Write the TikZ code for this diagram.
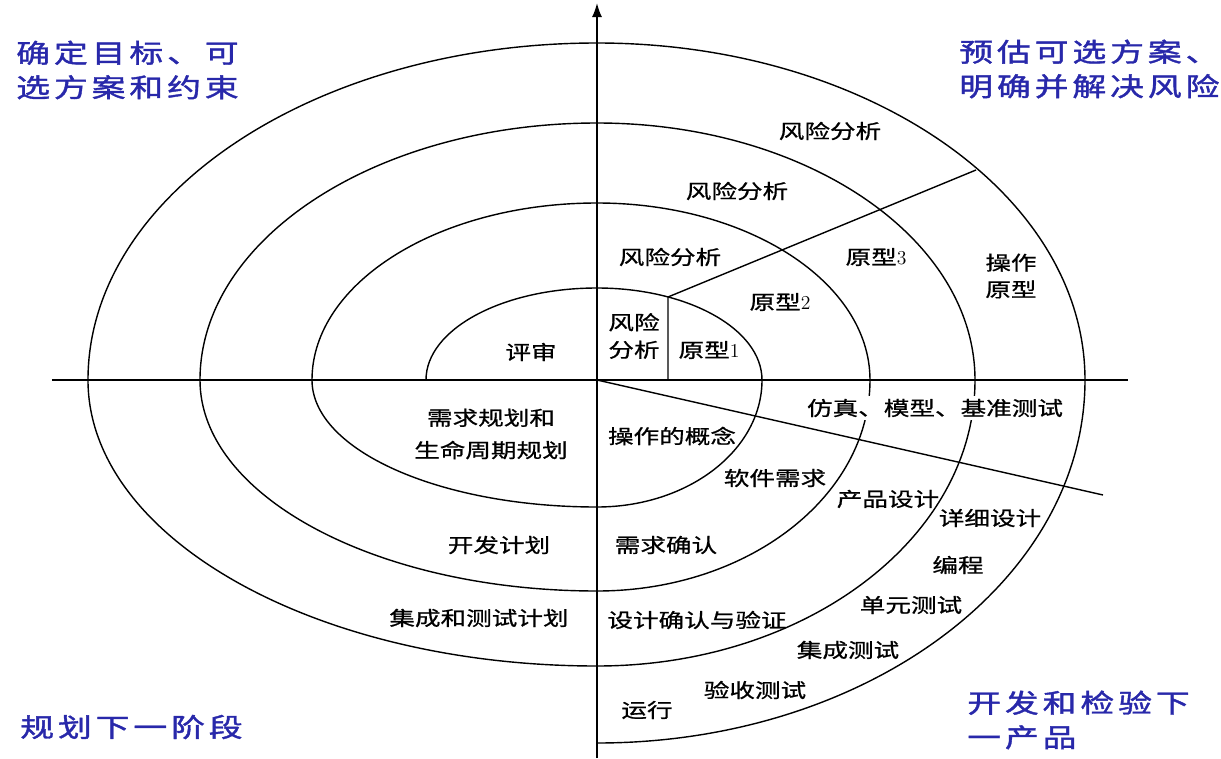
\documentclass[tikz,border=0pt]{standalone}
\usepackage{fontspec}
\usetikzlibrary{arrows.meta}
\newfontfamily\cjk[FakeStretch=1.3,FakeBold=0.8]{Noto Sans CJK SC}
\newfontfamily\cjkgoal[FakeStretch=1.3,FakeBold=1.5,LetterSpace=15]{Noto Sans CJK SC}
\definecolor{goalblue}{RGB}{40,40,170}
\begin{document}
\begin{tikzpicture}[x=0.025cm, y=0.025cm,
    spiral/.style={line width=1pt},
    axis/.style={line width=1.2pt},
    lbl/.style={inner sep=1pt, align=center, font=\cjk\fontsize{14}{19}\selectfont},
    goal/.style={inner sep=0pt, anchor=west, align=left, text=goalblue,
      font=\cjkgoal\fontsize{18.5}{24.5}\selectfont}]
  \useasboundingbox (-597,-378) rectangle (624,380);
  \coordinate (O) at (0,0);
  \coordinate (xl) at (-545,0);
  \coordinate (xr) at (531,0);
  \coordinate (yb) at (0,-378);
  \coordinate (yt) at (0,377);
  \coordinate (boxfoot) at (71,0);
  \coordinate (boxtop) at (71,83);
  \coordinate (protoend) at (379,210);
  \coordinate (cutend) at (506,-115);

  % spiral, one quarter ellipse per quadrant
  \draw[spiral] (-171,0)
    \foreach \al/\ar/\bu/\bd/\nx in {171/165/92/127/285, 285/273/177/211/397, 397/378/257/286/509}{
      arc[start angle=180, end angle=90, x radius=\al, y radius=\bu]
      arc[start angle=90, end angle=0, x radius=\ar, y radius=\bu]
      arc[start angle=0, end angle=-90, x radius=\ar, y radius=\bd]
      arc[start angle=-90, end angle=-180, x radius=\nx, y radius=\bd]}
    arc[start angle=180, end angle=90, x radius=509, y radius=337]
    arc[start angle=90, end angle=0, x radius=488, y radius=337]
    arc[start angle=0, end angle=-90, x radius=488, y radius=363];

  % axes and cuts
  \draw[axis] (xl) -- (xr);
  \draw[axis, -{Latex[length=3.5mm, width=2.5mm]}] (yb) -- (yt);
  \draw[spiral] (boxfoot) -- (boxtop) -- (protoend);
  \draw[spiral] (O) -- (cutend);

  % quadrant titles
  \node[goal] (goalUL) at (-581,310) {确定目标、可\\选方案和约束};
  \node[goal] (goalUR) at (362,311) {预估可选方案、\\明确并解决风险};
  \node[goal] (goalLL) at (-577,-347) {规划下一阶段};
  \node[goal] (goalLR) at (370,-340) {开发和检验下\\一产品};

  % upper right
  \node[lbl] (risk4) at (233,249) {风险分析};
  \node[lbl] (risk3) at (140,189) {风险分析};
  \node[lbl] (risk2) at (73,123) {风险分析};
  \node[lbl, font=\cjk\fontsize{14}{19.5}\selectfont] (risk1) at (37,44) {风险\\分析};
  \node[lbl] (proto1) at (112,30) {原型\rmfamily 1};
  \node[lbl] (proto2) at (183,78) {原型\rmfamily 2};
  \node[lbl] (proto3) at (279,123) {原型\rmfamily 3};
  \node[lbl] (opproto) at (414,104) {操作\\原型};

  % upper left and lower left
  \node[lbl] (review) at (-66,28) {评审};
  \node[lbl, font=\cjk\fontsize{14}{23}\selectfont] (reqplan) at (-106,-54) {需求规划和\\生命周期规划};
  \node[lbl] (devplan) at (-98,-165) {开发计划};
  \node[lbl] (itplan) at (-118,-238) {集成和测试计划};

  % lower right
  \node[lbl, fill=white, inner sep=2pt] (sim) at (338,-28) {仿真、模型、基准测试};
  \node[lbl] (opconcept) at (75,-56) {操作的概念};
  \node[lbl] (swreq) at (178,-98) {软件需求};
  \node[lbl] (reqval) at (69,-165) {需求确认};
  \node[lbl] (proddesign) at (291,-119) {产品设计};
  \node[lbl] (detdesign) at (393,-138) {详细设计};
  \node[lbl] (coding) at (361,-185) {编程};
  \node[lbl] (unittest) at (314,-225) {单元测试};
  \node[lbl] (designval) at (100,-240) {设计确认与验证};
  \node[lbl] (inttest) at (251,-270) {集成测试};
  \node[lbl] (acctest) at (158,-310) {验收测试};
  \node[lbl] (operation) at (50,-330) {运行};
\end{tikzpicture}
\end{document}
